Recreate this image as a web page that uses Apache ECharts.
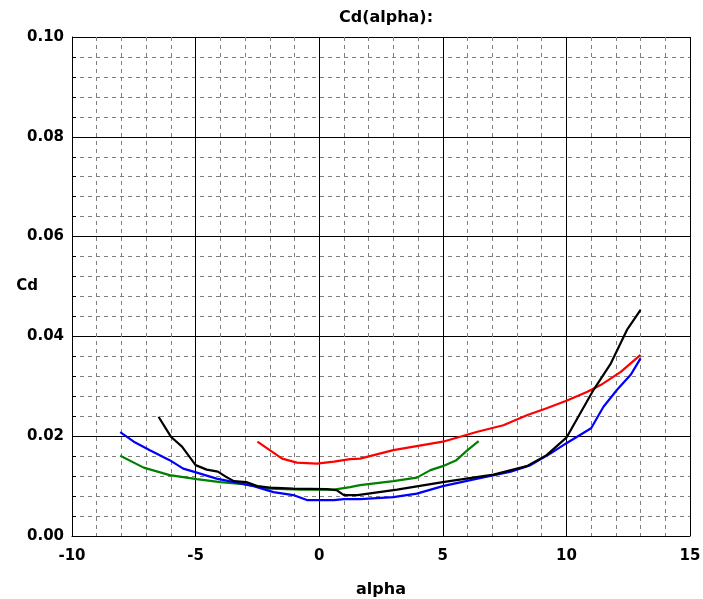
<!DOCTYPE html>
<html>
<head>
<meta charset="utf-8">
<script src="https://cdn.jsdelivr.net/npm/echarts@6/dist/echarts.min.js"></script>
<style>html,body{margin:0;padding:0;background:#fff}#c{width:703px;height:599px}</style>
</head>
<body>
<div id="c"></div>
<script>
var blackAlpha = [-6.5, -6.0, -5.55, -5.0, -4.55, -4.1, -3.75, -3.45, -2.95, -2.5, -2.0, -1.05, 0.3, 0.7, 1.0, 1.55, 3.15, 5.0, 7.05, 8.4, 9.2, 10.0, 11.1, 11.8, 12.45, 13.0];
var blackCd    = [0.0239, 0.0199, 0.0179, 0.0142, 0.0133, 0.0129, 0.0118, 0.0110, 0.0108, 0.0100, 0.0097, 0.0095, 0.0094, 0.0092, 0.0082, 0.0082, 0.0093, 0.0108, 0.0123, 0.0140, 0.0162, 0.0197, 0.0293, 0.0346, 0.0413, 0.0453];

var redAlpha = [-2.5, -2.0, -1.5, -0.9, -0.1, 0.6, 1.25, 1.65, 3.0, 5.0, 6.4, 7.45, 8.4, 9.2, 10.0, 10.85, 11.4, 12.2, 13.0];
var redCd    = [0.0189, 0.0172, 0.0155, 0.0147, 0.0145, 0.0149, 0.0154, 0.0155, 0.0172, 0.0189, 0.0209, 0.0222, 0.0242, 0.0256, 0.0271, 0.0289, 0.0303, 0.0329, 0.0363];

var blueAlpha = [-8.05, -7.5, -6.85, -6.05, -5.5, -4.95, -4.15, -3.45, -2.65, -1.85, -1.05, -0.5, 0.6, 1.0, 1.65, 3.0, 3.95, 5.0, 6.4, 7.75, 8.55, 9.35, 10.0, 11.0, 11.5, 12.05, 12.6, 13.0];
var blueCd    = [0.0208, 0.0189, 0.0172, 0.0152, 0.0135, 0.0127, 0.0115, 0.0108, 0.0100, 0.0088, 0.0082, 0.0072, 0.0072, 0.0074, 0.0074, 0.0078, 0.0085, 0.0100, 0.0115, 0.0129, 0.0142, 0.0165, 0.0186, 0.0216, 0.0259, 0.0293, 0.0323, 0.0356];

var greenAlpha = [-8.05, -7.1, -6.05, -4.95, -4.0, -3.05, -2.0, -0.75, 0.6, 1.25, 1.65, 3.0, 3.95, 4.5, 5.0, 5.55, 6.0, 6.45];
var greenCd    = [0.0161, 0.0137, 0.0122, 0.0114, 0.0108, 0.0104, 0.0095, 0.0093, 0.0093, 0.0098, 0.0102, 0.0110, 0.0117, 0.0132, 0.0140, 0.0152, 0.0172, 0.0190];

var xMin = -10, xMax = 15, xStep = 5;
var yMin = 0, yMax = 0.10, yStep = 0.02;
var titleText = 'Cd(alpha):';
var xName = 'alpha', yName = 'Cd';

function pairs(a, b) { return a.map(function (v, i) { return [v, b[i]]; }); }

var FONT = '"DejaVu Sans", Verdana, sans-serif';
var chart = echarts.init(document.getElementById('c'), null, { renderer: 'canvas' });

function mkSeries(name, xs, ys, color) {
  return {
    name: name, type: 'line', data: pairs(xs, ys), showSymbol: false, symbol: 'none',
    lineStyle: { color: color, width: 2.2 }, itemStyle: { color: color },
    animation: false, z: 5
  };
}

chart.setOption({
  animation: false,
  backgroundColor: '#fff',
  title: {
    text: titleText, left: 381, top: 5, textAlign: 'center',
    textStyle: { fontFamily: FONT, fontWeight: 'bold', fontSize: 16, color: '#000' }
  },
  grid: { left: 72, top: 37, width: 618, height: 499, containLabel: false, outerBoundsMode: 'none' },
  xAxis: {
    type: 'value', min: xMin, max: xMax, interval: xStep,
    name: xName, nameLocation: 'middle', nameGap: 46, nameMoveOverlap: false,
    nameTextStyle: { fontFamily: FONT, fontWeight: 'bold', fontSize: 16, color: '#000' },
    axisLine: { show: true, onZero: false, lineStyle: { color: '#000', width: 1 } },
    axisTick: { show: false },
    axisLabel: { fontFamily: FONT, fontWeight: 'bold', fontSize: 15, color: '#000', margin: 13 },
    splitLine: { show: true, lineStyle: { color: '#000', width: 1 } },
    minorTick: { show: false, splitNumber: 5 },
    minorSplitLine: { show: true, lineStyle: { color: '#808080', width: 1, type: [4, 4] } }
  },
  yAxis: {
    type: 'value', min: yMin, max: yMax, interval: yStep,
    name: yName, nameLocation: 'middle', nameGap: 34, nameRotate: 0, nameMoveOverlap: false,
    nameTextStyle: { fontFamily: FONT, fontWeight: 'bold', fontSize: 15, color: '#000' },
    axisLine: { show: true, onZero: false, lineStyle: { color: '#000', width: 1 } },
    axisTick: { show: true, inside: true, length: 4, lineStyle: { color: '#000' } },
    axisLabel: { fontFamily: FONT, fontWeight: 'bold', fontSize: 15, color: '#000', margin: 8,
      formatter: function (v) { return v.toFixed(2); } },
    splitLine: { show: true, lineStyle: { color: '#000', width: 1 } },
    minorTick: { show: true, splitNumber: 5, length: 4, lineStyle: { color: '#000' } },
    minorSplitLine: { show: true, lineStyle: { color: '#808080', width: 1, type: [4, 4] } }
  },
  series: [
    mkSeries('green', greenAlpha, greenCd, '#008000'),
    mkSeries('blue', blueAlpha, blueCd, '#0000ff'),
    mkSeries('red', redAlpha, redCd, '#ff0000'),
    mkSeries('black', blackAlpha, blackCd, '#000000')
  ]
});
</script>
</body>
</html>
